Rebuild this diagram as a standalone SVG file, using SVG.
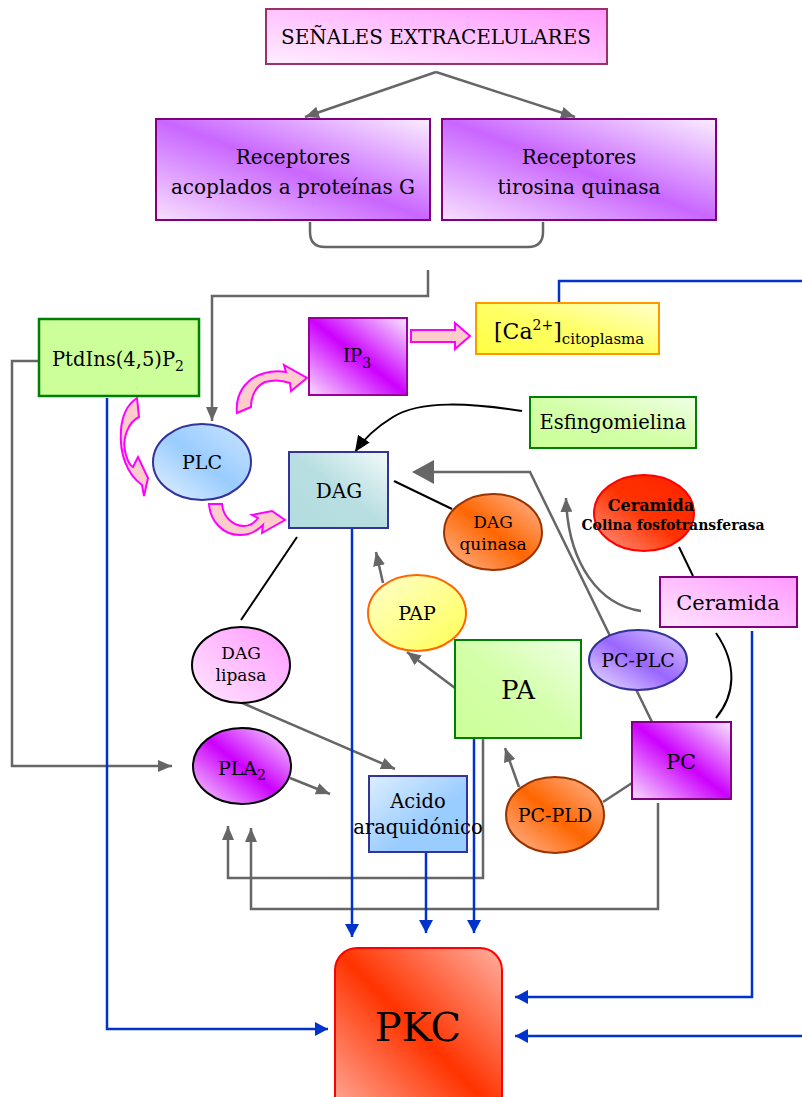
<svg xmlns="http://www.w3.org/2000/svg" width="802" height="1097" viewBox="0 0 802 1097">
<defs>
<style>
text{font-family:"DejaVu Serif","Liberation Serif",serif;fill:#000;text-anchor:middle}
.g{fill:none;stroke:#666;stroke-width:2.5}
.b{fill:none;stroke:#0033cc;stroke-width:2.5}
.k{fill:none;stroke:#000;stroke-width:2}
.blk{fill:#ffcccc;stroke:#ff00ff;stroke-width:2}
</style>
<marker id="ag" markerUnits="userSpaceOnUse" markerWidth="14" markerHeight="12" refX="14" refY="6" orient="auto"><path d="M0,0 L14,6 L0,12 z" fill="#666"/></marker>
<marker id="ab" markerUnits="userSpaceOnUse" markerWidth="13" markerHeight="14" refX="13" refY="7" orient="auto"><path d="M0,0 L13,7 L0,14 z" fill="#0033cc"/></marker>
<marker id="ak" markerUnits="userSpaceOnUse" markerWidth="16" markerHeight="14" refX="16" refY="7" orient="auto"><path d="M0,0 L16,7 L0,14 z" fill="#000"/></marker>
<linearGradient id="gSen" x1="0" y1="1" x2="1" y2="0"><stop offset="0" stop-color="#ffeeff"/><stop offset="1" stop-color="#ff99ff"/></linearGradient>
<linearGradient id="gRec" x1="0" y1="1" x2="1" y2="0"><stop offset="0" stop-color="#f8e0ff"/><stop offset="0.5" stop-color="#c966ff"/><stop offset="1" stop-color="#fbeeff"/></linearGradient>
<linearGradient id="gVio" x1="0" y1="1" x2="1" y2="0"><stop offset="0" stop-color="#f8ddff"/><stop offset="0.5" stop-color="#cc00ff"/><stop offset="1" stop-color="#f8e6ff"/></linearGradient>
<linearGradient id="gPKC" x1="0" y1="1" x2="1" y2="0"><stop offset="0" stop-color="#ffb0a0"/><stop offset="0.5" stop-color="#ff3300"/><stop offset="1" stop-color="#ffb0a0"/></linearGradient>
<linearGradient id="gPLC" x1="0" y1="1" x2="1" y2="0"><stop offset="0" stop-color="#e6f2ff"/><stop offset="0.5" stop-color="#99ccff"/><stop offset="1" stop-color="#cce5ff"/></linearGradient>
<linearGradient id="gDAG" x1="0" y1="1" x2="1" y2="0"><stop offset="0" stop-color="#b3dde0"/><stop offset="0.5" stop-color="#b8dee1"/><stop offset="1" stop-color="#f2fafa"/></linearGradient>
<linearGradient id="gOr" x1="0" y1="1" x2="1" y2="0"><stop offset="0" stop-color="#ffb899"/><stop offset="0.5" stop-color="#ff6600"/><stop offset="1" stop-color="#ffb899"/></linearGradient>
<linearGradient id="gRed" x1="0" y1="1" x2="1" y2="0"><stop offset="0" stop-color="#ff9988"/><stop offset="0.5" stop-color="#ff3300"/><stop offset="1" stop-color="#ff2200"/></linearGradient>
<linearGradient id="gYel" x1="0" y1="0" x2="1" y2="1"><stop offset="0" stop-color="#ffffcc"/><stop offset="1" stop-color="#ffff55"/></linearGradient>
<linearGradient id="gCa" x1="0" y1="1" x2="1" y2="0"><stop offset="0" stop-color="#ffff44"/><stop offset="0.5" stop-color="#ffff66"/><stop offset="1" stop-color="#ffffcc"/></linearGradient>
<linearGradient id="gGr" x1="0" y1="1" x2="1" y2="0"><stop offset="0" stop-color="#ccff99"/><stop offset="0.5" stop-color="#d4ffaa"/><stop offset="1" stop-color="#f0ffe6"/></linearGradient>
<linearGradient id="gPink" x1="0" y1="1" x2="1" y2="0"><stop offset="0" stop-color="#ffe6ff"/><stop offset="1" stop-color="#ff99ff"/></linearGradient>
<linearGradient id="gPCPLC" x1="0" y1="1" x2="1" y2="0"><stop offset="0" stop-color="#eee6ff"/><stop offset="0.5" stop-color="#9966ff"/><stop offset="1" stop-color="#ddccff"/></linearGradient>
<linearGradient id="gAc" x1="0" y1="0" x2="1" y2="1"><stop offset="0" stop-color="#ddeeff"/><stop offset="0.6" stop-color="#99ccff"/><stop offset="1" stop-color="#99ccff"/></linearGradient>
</defs>
<rect width="802" height="1097" fill="#fff"/>

<g id="connectors">
<path class="g" d="M436,72 L305,117" marker-end="url(#ag)"/>
<path class="g" d="M436,72 L575,117" marker-end="url(#ag)"/>
<path class="g" d="M310,222 L310,232 Q310,247 325,247 L528,247 Q543,247 543,232 L543,222"/>
<path class="g" d="M428,270 L428,296 L212,296 L212,421" marker-end="url(#ag)"/>
<path class="g" d="M39,361 L12,361 L12,766 L172,766" marker-end="url(#ag)"/>
<path class="g" d="M240,702 L395,769" marker-end="url(#ag)"/>
<path class="g" d="M290,778 L330,794" marker-end="url(#ag)"/>
<path class="g" d="M383,583 L376,552" marker-end="url(#ag)"/>
<path class="g" d="M455,688 L407,652" marker-end="url(#ag)"/>
<path class="g" d="M519,787 L505,748" marker-end="url(#ag)"/>
<path class="g" d="M603,802 L632,783"/>
<path class="g" d="M652,722 L530,472 L432,472"/>
<polygon points="412,472 434,460 434,484" fill="#666"/>
<path class="g" d="M641,611 C600,605 568,565 566,498" marker-end="url(#ag)"/>
<path class="g" d="M483,738 L483,878 L228,878 L228,826" marker-end="url(#ag)"/>
<path class="g" d="M658,803 L658,909 L251,909 L251,828" marker-end="url(#ag)"/>
<path class="k" d="M394,481 L452,509"/>
<path class="k" d="M297,537 L241,620"/>
<path class="k" d="M679,547 L693,576"/>
<path class="k" d="M716,633 C738,665 735,695 716,718"/>
<path class="k" d="M522,411 C470,403 420,400 393,417 C375,428 363,440 355,452" marker-end="url(#ak)"/>
<path class="b" d="M559,303 L559,281 L802,281"/>
<path class="b" d="M107,398 L107,1029 L328,1029" marker-end="url(#ab)"/>
<path class="b" d="M352,528 L352,937" marker-end="url(#ab)"/>
<path class="b" d="M426,852 L426,933" marker-end="url(#ab)"/>
<path class="b" d="M474,738 L474,933" marker-end="url(#ab)"/>
<path class="b" d="M752,631 L752,997 L515,997" marker-end="url(#ab)"/>
<path class="b" d="M802,1036 L515,1036" marker-end="url(#ab)"/>
<path class="blk" d="M137,398 L139,417 C128,422 121,440 126,455 C128,462 131,466 133,467 L138,457 L148,478 L144,496 L142,485 C128,475 119,455 121,430 C122,415 128,404 137,398 Z"/>
<path class="blk" d="M237,413 C235,395 245,378 265,373 C272,371 280,371 286,372 L284,365 L307,378 L291,391 L290,383 C282,380 272,380 265,382 C256,386 251,396 251,407 Z"/>
<path class="blk" d="M209,504 L222,504 C223,516 232,526 244,526 C250,526 255,522 258,518 L252,515 L272,511 L285,520 L262,533 L263,525 C258,530 250,535 240,535 C222,535 210,520 209,504 Z"/>
<path class="blk" d="M411,330 L455,330 L455,323 L470,336 L455,349 L455,342 L411,342 Z"/>
</g>

<g id="senales"><rect x="266" y="9" width="341" height="55" fill="url(#gSen)" stroke="#993366" stroke-width="2"/><text x="436" y="44" font-size="20">SEÑALES EXTRACELULARES</text></g>
<g id="receptores-g"><rect x="156" y="119" width="274" height="101" fill="url(#gRec)" stroke="#800080" stroke-width="2"/><text x="293" y="164" font-size="20">Receptores</text><text x="293" y="194" font-size="20">acoplados a proteínas G</text></g>
<g id="receptores-tk"><rect x="442" y="119" width="274" height="101" fill="url(#gRec)" stroke="#800080" stroke-width="2"/><text x="579" y="164" font-size="20">Receptores</text><text x="579" y="194" font-size="20">tirosina quinasa</text></g>
<g id="ptdins"><rect x="39" y="319" width="160" height="77" fill="#ccff99" stroke="#008000" stroke-width="2.5"/><text x="118" y="366" font-size="19.5">PtdIns(4,5)P<tspan font-size="14" dy="5">2</tspan></text></g>
<g id="ip3"><rect x="309" y="318" width="98" height="77" fill="url(#gVio)" stroke="#990099" stroke-width="2"/><text x="357" y="362" font-size="18">IP<tspan font-size="14" dy="6">3</tspan></text></g>
<g id="ca"><rect x="476" y="303" width="183" height="51" fill="url(#gCa)" stroke="#ff9900" stroke-width="2"/><text x="494" y="339" font-size="22" style="text-anchor:start">[Ca<tspan font-size="14" dy="-9">2+</tspan><tspan dy="9">]</tspan><tspan font-size="15" dy="5">citoplasma</tspan></text></g>
<g id="esfingomielina"><rect x="530" y="397" width="166" height="51" fill="url(#gGr)" stroke="#008000" stroke-width="2"/><text x="613" y="429" font-size="19.5">Esfingomielina</text></g>
<g id="plc"><ellipse cx="202" cy="462" rx="49" ry="38" fill="url(#gPLC)" stroke="#333399" stroke-width="2"/><text x="202" y="469" font-size="19">PLC</text></g>
<g id="dag"><rect x="289" y="452" width="99" height="76" fill="url(#gDAG)" stroke="#333399" stroke-width="2"/><text x="339" y="498" font-size="20">DAG</text></g>
<g id="dag-quinasa"><ellipse cx="493" cy="532" rx="49" ry="38" fill="url(#gOr)" stroke="#993300" stroke-width="2"/><text x="493" y="528" font-size="17">DAG</text><text x="493" y="550" font-size="17">quinasa</text></g>
<g id="ceramida-cft"><ellipse cx="644" cy="513" rx="50" ry="38" fill="url(#gRed)" stroke="#ff0000" stroke-width="2"/><text x="651" y="511" font-size="16" font-weight="bold">Ceramida</text><text x="673" y="530" font-size="14" font-weight="bold">Colina fosfotransferasa</text></g>
<g id="ceramida"><rect x="660" y="577" width="137" height="50" fill="url(#gPink)" stroke="#800080" stroke-width="2"/><text x="728" y="610" font-size="21">Ceramida</text></g>
<g id="pc-plc"><ellipse cx="638" cy="660" rx="49" ry="30" fill="url(#gPCPLC)" stroke="#333399" stroke-width="2"/><text x="638" y="667" font-size="19">PC-PLC</text></g>
<g id="pap"><ellipse cx="417" cy="613" rx="49" ry="38" fill="url(#gYel)" stroke="#ff6600" stroke-width="2"/><text x="417" y="620" font-size="19">PAP</text></g>
<g id="pa"><rect x="455" y="640" width="126" height="98" fill="url(#gGr)" stroke="#008000" stroke-width="2"/><text x="518" y="699" font-size="26">PA</text></g>
<g id="dag-lipasa"><ellipse cx="241" cy="665" rx="49" ry="38" fill="url(#gPink)" stroke="#000" stroke-width="2"/><text x="241" y="659" font-size="17">DAG</text><text x="241" y="681" font-size="17">lipasa</text></g>
<g id="pla2"><ellipse cx="242" cy="766" rx="49" ry="38" fill="url(#gVio)" stroke="#000" stroke-width="2"/><text x="242" y="775" font-size="19">PLA<tspan font-size="14" dy="5">2</tspan></text></g>
<g id="pc"><rect x="632" y="722" width="99" height="77" fill="url(#gVio)" stroke="#800080" stroke-width="2"/><text x="681" y="769" font-size="21">PC</text></g>
<g id="acido"><rect x="369" y="776" width="98" height="76" fill="url(#gAc)" stroke="#333399" stroke-width="2"/><text x="418" y="808" font-size="19.5">Acido</text><text x="418" y="834" font-size="19.5">araquidónico</text></g>
<g id="pc-pld"><ellipse cx="555" cy="815" rx="49" ry="38" fill="url(#gOr)" stroke="#993300" stroke-width="2"/><text x="555" y="822" font-size="19">PC-PLD</text></g>
<g id="pkc"><rect x="335" y="948" width="167" height="170" rx="22" fill="url(#gPKC)" stroke="#ff0000" stroke-width="2"/><text x="418" y="1041" font-size="40">PKC</text></g>
</svg>
